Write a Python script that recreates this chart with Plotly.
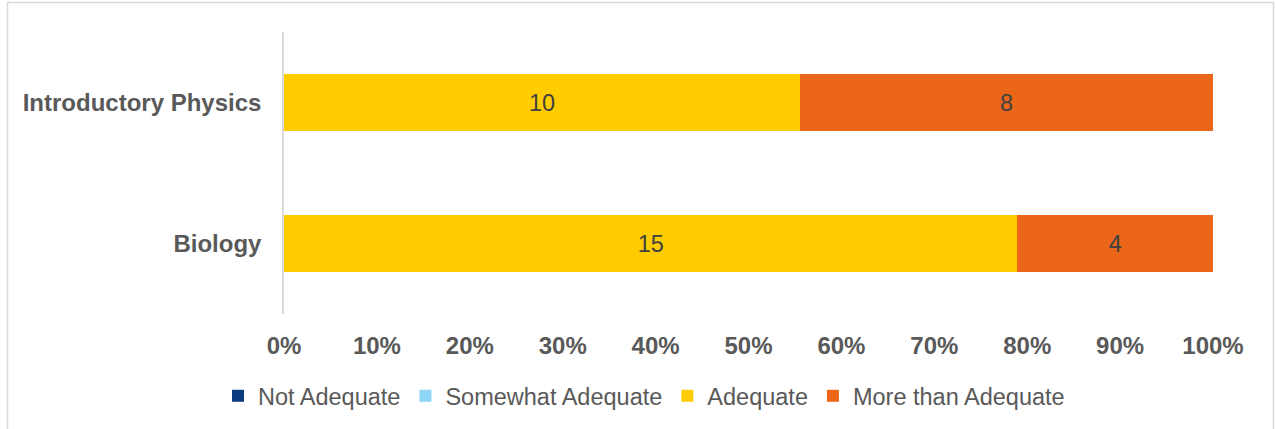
import plotly.graph_objects as go

# Course survey: how adequate students found their preparation
courses = ["Introductory Physics", "Biology"]
ratings = ["Not Adequate", "Somewhat Adequate", "Adequate", "More than Adequate"]
not_adequate = [0, 0]
somewhat_adequate = [0, 0]
adequate = [10, 15]
more_than_adequate = [8, 4]
tick_values = [0, 10, 20, 30, 40, 50, 60, 70, 80, 90, 100]
tick_labels = ["0%", "10%", "20%", "30%", "40%", "50%", "60%", "70%", "80%", "90%", "100%"]

colors = ["#0B3A7E", "#8FD6F6", "#FFCC00", "#EB6619"]
series = [not_adequate, somewhat_adequate, adequate, more_than_adequate]

W, H = 1276, 429
L, R, T, B = 284, 63, 32, 114
font_family = "Liberation Sans, Arial, sans-serif"

fig = go.Figure()
for name, vals, col in zip(ratings, series, colors):
    fig.add_trace(go.Bar(
        y=courses, x=vals, name=name, orientation="h",
        marker=dict(color=col, line=dict(width=0)),
        text=[str(v) if v else "" for v in vals],
        textposition="inside", insidetextanchor="middle", textangle=0,
        textfont=dict(family=font_family, size=23.5, color="#404040"),
    ))

# outer chart border, drawn in paper coordinates relative to the plot area
pw, ph = W - L - R, H - T - B
def px_x(p):
    return (p - L) / pw
def px_y(p):
    return (H - B - p) / ph

fig.add_shape(type="rect", xref="paper", yref="paper",
              x0=px_x(7.5), x1=px_x(1273.5), y0=px_y(440), y1=px_y(2.5),
              line=dict(color="#D9D9D9", width=1.5), fillcolor="rgba(0,0,0,0)",
              layer="below")

fig.update_layout(
    width=W, height=H,
    margin=dict(l=L, r=R, t=T, b=B, pad=0),
    barmode="stack", barnorm="percent", bargap=0.6,
    paper_bgcolor="white", plot_bgcolor="white",
    font=dict(family=font_family, color="#595959"),
    showlegend=True,
    legend=dict(orientation="h", x=px_x(644), xanchor="center",
                y=px_y(396), yanchor="middle",
                font=dict(size=23.5, color="#595959"),
                traceorder="normal", itemwidth=30),
    xaxis=dict(range=[0, 100], tickvals=tick_values, ticktext=tick_labels,
               showgrid=False, zeroline=False, showline=False,
               ticks="", ticklabelstandoff=15,
               tickfont=dict(size=24, color="#595959", family=font_family, weight="bold"),
               fixedrange=True),
    yaxis=dict(autorange="reversed", showgrid=False, zeroline=False,
               showline=True, linecolor="#D9D9D9", linewidth=1.5,
               ticks="", ticklabelstandoff=16,
               tickfont=dict(size=24, color="#595959", family=font_family, weight="bold"),
               fixedrange=True),
)

fig.write_html("out.html")
